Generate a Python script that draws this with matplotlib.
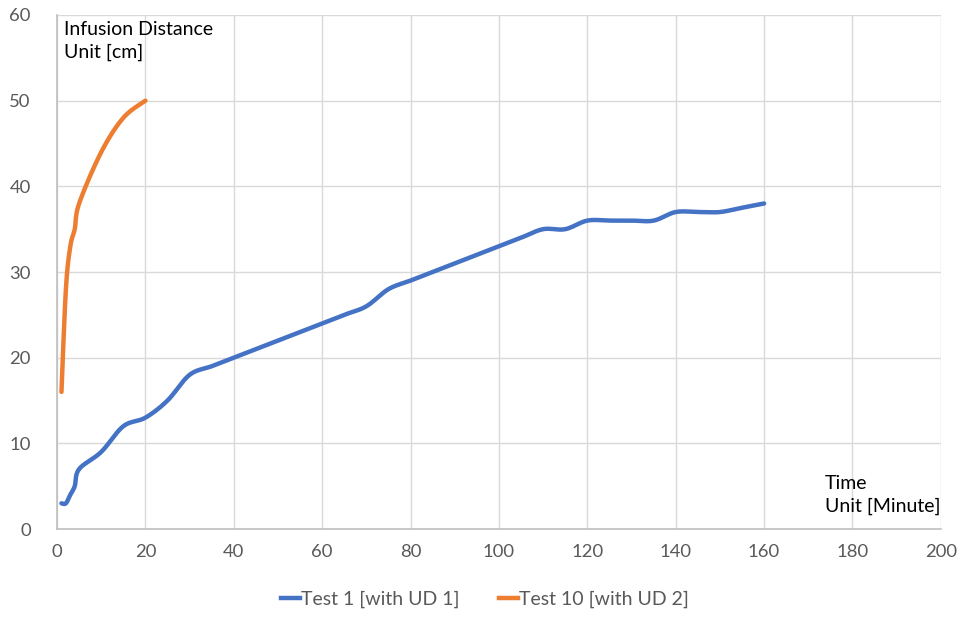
import numpy as np
import matplotlib
matplotlib.use("Agg")
import matplotlib.pyplot as plt
from matplotlib.lines import Line2D

plt.rcParams['font.family'] = ['Lato', 'DejaVu Sans']

# ---- data ----
t1_time = [1, 2, 3, 4, 5, 10, 15, 20, 25, 30, 35, 40, 45, 50, 55, 60, 65, 70, 75, 80,
           85, 90, 95, 100, 105, 110, 115, 120, 125, 130, 135, 140, 145, 150, 155, 160]
t1_dist = [3, 3, 4, 5, 7, 9, 12, 13, 15, 18, 19, 20, 21, 22, 23, 24, 25, 26, 28, 29,
           30, 31, 32, 33, 34, 35, 35, 36, 36, 36, 36, 37, 37, 37, 37.5, 38]
t10_time = [1, 2, 3, 4, 5, 10, 15, 20]
t10_dist = [16, 28, 33, 35, 38, 44, 48, 50]
series_names = ["Test 1 [with UD 1]", "Test 10 [with UD 2]"]
x_ticks = [0, 20, 40, 60, 80, 100, 120, 140, 160, 180, 200]
y_ticks = [0, 10, 20, 30, 40, 50, 60]

BLUE = "#4472C4"
ORANGE = "#ED7D31"


def smooth(x, y, n=20):
    """Catmull-Rom style smoothing similar to Excel 'smoothed line'."""
    x = np.asarray(x, float)
    y = np.asarray(y, float)
    P = np.column_stack([x, y])
    P = np.vstack([P[0], P, P[-1]])
    out = []
    for i in range(1, len(P) - 2):
        p0, p1, p2, p3 = P[i - 1], P[i], P[i + 1], P[i + 2]
        c1 = p1 + (p2 - p0) / 6.0
        c2 = p2 - (p3 - p1) / 6.0
        s = np.linspace(0, 1, n)[:, None]
        seg = ((1 - s) ** 3) * p1 + 3 * ((1 - s) ** 2) * s * c1 + 3 * (1 - s) * s ** 2 * c2 + s ** 3 * p2
        out.append(seg if i == 1 else seg[1:])
    out = np.vstack(out)
    return out[:, 0], out[:, 1]


fig = plt.figure(figsize=(9.62, 6.17), dpi=100)
ax = fig.add_axes([0.0593, 0.1426, 0.9187, 0.8331])

sx, sy = smooth(t1_time, t1_dist)
ax.plot(sx, sy, color=BLUE, lw=3.2, solid_capstyle='round', zorder=3)
sx, sy = smooth(t10_time, t10_dist)
ax.plot(sx, sy, color=ORANGE, lw=3.2, solid_capstyle='round', zorder=3)

ax.set_xlim(0, 200)
ax.set_ylim(0, 60)
ax.set_xticks(x_ticks)
ax.set_yticks(y_ticks)
ax.grid(True, color="#d9d9d9", lw=1.0)
ax.set_axisbelow(True)
for s in ["top", "right"]:
    ax.spines[s].set_visible(False)
for s in ["left", "bottom"]:
    ax.spines[s].set_color("#bfbfbf")
    ax.spines[s].set_linewidth(1.2)
ax.tick_params(length=0, labelsize=13.3, labelcolor="#595959")
ax.tick_params(axis='y', pad=19)
ax.tick_params(axis='x', pad=11)

ax.text(0.008, 0.988, "Infusion Distance\nUnit [cm]", transform=ax.transAxes,
        ha='left', va='top', fontsize=14, color='black', linespacing=1.4)
ax.text(0.869, 0.105, "Time\nUnit [Minute]", transform=ax.transAxes,
        ha='left', va='top', fontsize=14, color='black', linespacing=1.4)

handles = [Line2D([0], [0], color=BLUE, lw=3.2), Line2D([0], [0], color=ORANGE, lw=3.2)]
leg = fig.legend(handles, series_names, loc='center', bbox_to_anchor=(0.504, 0.028),
                 ncol=2, frameon=False, fontsize=14, handlelength=1.0,
                 handletextpad=0.05, columnspacing=2.0)
for t in leg.get_texts():
    t.set_color("#595959")

fig.savefig("out.png", dpi=100)
